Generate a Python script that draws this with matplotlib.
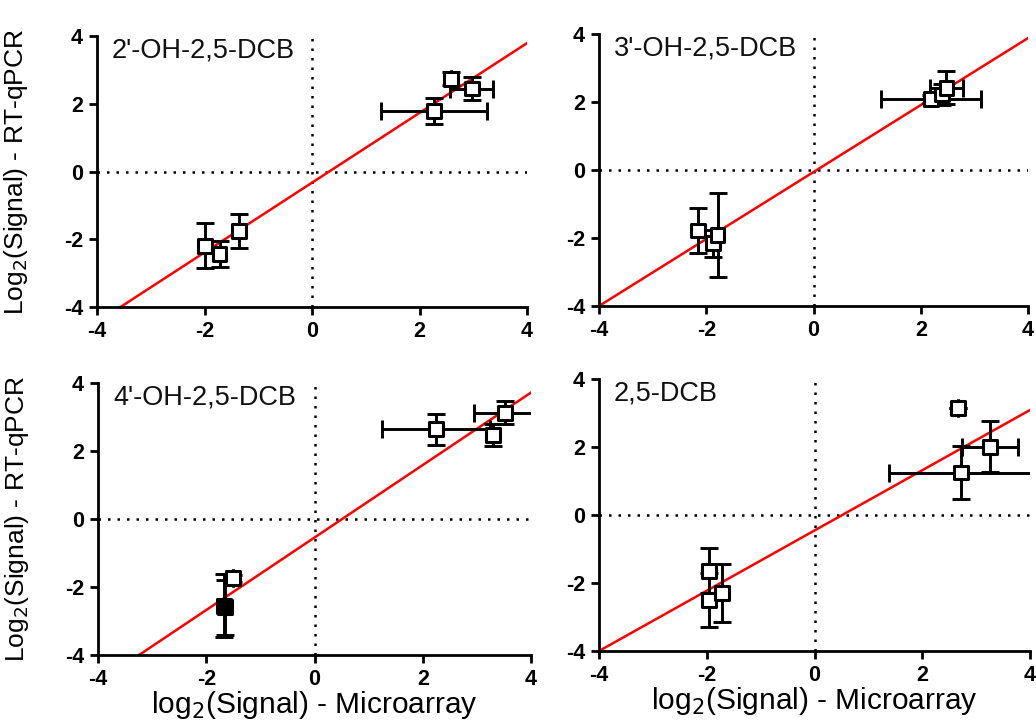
import matplotlib
matplotlib.use("Agg")
import matplotlib.pyplot as plt
import numpy as np

# ---- data: log2 fold changes, microarray (x) vs RT-qPCR (y) ----
titles = ["2'-OH-2,5-DCB", "3'-OH-2,5-DCB", "4'-OH-2,5-DCB", "2,5-DCB"]

x_oh2 = [2.27, 2.97, 2.58, -1.99, -1.72, -1.35]
y_oh2 = [1.78, 2.45, 2.74, -2.19, -2.44, -1.75]
xe_oh2 = [0.99, 0.40, 0.0, 0.0, 0.0, 0.0]
ye_oh2 = [0.38, 0.35, 0.20, 0.67, 0.38, 0.50]

x_oh3 = [2.19, 2.40, 2.48, -2.16, -1.88, -1.79]
y_oh3 = [2.10, 2.22, 2.42, -1.78, -2.16, -1.91]
xe_oh3 = [0.93, 0.0, 0.30, 0.0, 0.0, 0.0]
ye_oh3 = [0.12, 0.30, 0.48, 0.65, 0.40, 1.24]

x_oh4 = [2.25, 3.30, 3.52, -1.68, -1.66, -1.51]
y_oh4 = [2.64, 2.47, 3.13, -2.55, -2.60, -1.74]
xe_oh4 = [1.00, 0.0, 0.57, 0.0, 0.0, 0.0]
ye_oh4 = [0.46, 0.33, 0.33, 0.93, 0.80, 0.10]

x_dcb = [2.66, 3.26, 2.72, -1.96, -1.95, -1.71]
y_dcb = [3.14, 2.01, 1.25, -1.64, -2.50, -2.30]
xe_dcb = [0.0, 0.52, 1.33, 0.0, 0.0, 0.0]
ye_dcb = [0.0, 0.75, 0.77, 0.66, 0.80, 0.86]

# overlapping replicates drawn as solid squares
solid_oh4 = [False, False, False, True, True, False]
no_solid = [False] * 6

# linear fit of each panel: slope, intercept
slopes = [1.03, 0.985, 1.066, 0.886]
intercepts = [-0.33, -0.06, -0.545, -0.456]

xs = [x_oh2, x_oh3, x_oh4, x_dcb]
ys = [y_oh2, y_oh3, y_oh4, y_dcb]
xes = [xe_oh2, xe_oh3, xe_oh4, xe_dcb]
yes = [ye_oh2, ye_oh3, ye_oh4, ye_dcb]
solids = [no_solid, no_solid, solid_oh4, no_solid]

ticks = [-4, -2, 0, 2, 4]
lim = (-4, 4)

W, H = 1036, 725
fig = plt.figure(figsize=(W / 100, H / 100), dpi=100)

# panel boxes in pixels: left, top, right, bottom
boxes = [(97, 36, 527, 307), (599, 34, 1028, 306),
         (98, 383, 531, 655), (599, 379, 1030, 651)]

font = ["Liberation Sans", "DejaVu Sans"]
tick_font = ["Liberation Sans Narrow", "Liberation Sans", "DejaVu Sans"]

for i, (l, t, r, b) in enumerate(boxes):
    ax = fig.add_axes([l / W, (H - b) / H, (r - l) / W, (b - t) / H])
    ax.set_xlim(lim)
    ax.set_ylim(lim)

    # reference lines at zero
    ax.axhline(0, color="black", lw=1.8, ls=(0, (1, 2.8)), zorder=1)
    ax.axvline(0, color="black", lw=1.8, ls=(0, (1, 2.8)), zorder=1)

    # regression line, clipped to the axes
    xl = np.array(lim, dtype=float)
    ax.plot(xl, slopes[i] * xl + intercepts[i], color="#ff0000", lw=1.8,
            zorder=2, clip_on=True)

    ax.errorbar(xs[i], ys[i], xerr=xes[i], yerr=yes[i], fmt="none",
                ecolor="black", elinewidth=2.1, capsize=6.5, capthick=2.1,
                zorder=3)
    faces = ["black" if s else "white" for s in solids[i]]
    ax.scatter(xs[i], ys[i], marker="s", s=100, facecolors=faces,
               edgecolors="black", linewidths=2.2, zorder=4)

    ax.text(0.035, 0.945, titles[i], transform=ax.transAxes, ha="left",
            va="center", fontsize=19.5, family=font, color="#111111")

    ax.set_xticks(ticks)
    ax.set_yticks(ticks)
    ax.set_xticklabels([str(v) for v in ticks], family=tick_font,
                       fontweight="bold", fontsize=15.5)
    ax.set_yticklabels([str(v) for v in ticks], family=tick_font,
                       fontweight="bold", fontsize=15.5)
    ax.tick_params(direction="out", length=6, width=2.0, pad=4,
                   colors="black")

    for side in ("top", "right"):
        ax.spines[side].set_visible(False)
    for side in ("left", "bottom"):
        ax.spines[side].set_linewidth(2.0)
        ax.spines[side].set_color("black")

    if i in (0, 2):
        ax.set_ylabel("Log$_2$(Signal) - RT-qPCR", fontsize=19,
                      family=font)
        ax.yaxis.set_label_coords(-0.155, 0.5)
    if i in (2, 3):
        ax.set_xlabel("log$_2$(Signal) - Microarray", fontsize=21.5,
                      family=font)
        ax.xaxis.set_label_coords(0.5, -0.125)

fig.savefig("out.png", dpi=100)
